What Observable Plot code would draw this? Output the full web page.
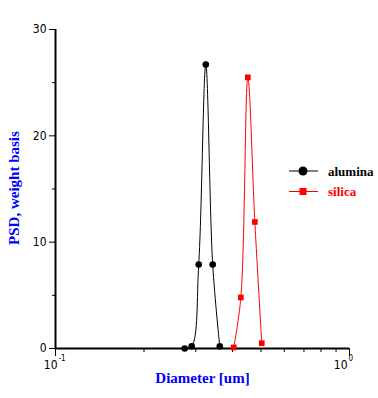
<!DOCTYPE html>
<html>
<head>
<meta charset="utf-8">
<script src="https://cdn.jsdelivr.net/npm/d3@7"></script>
<script src="https://cdn.jsdelivr.net/npm/@observablehq/plot@0.6"></script>
<style>
  html, body { margin: 0; padding: 0; background: white; }
</style>
</head>
<body>
<div id="chart"></div>
<script>
// ---- data ----
const aluminaD   = [0.275, 0.2905, 0.307, 0.3245, 0.3425, 0.362];
const aluminaPSD = [0.0, 0.2, 7.9, 26.7, 7.9, 0.2];
const silicaD    = [0.404, 0.427, 0.451, 0.4765, 0.503];
const silicaPSD  = [0.1, 4.8, 25.5, 11.9, 0.5];

const yMajorTicks = [0, 10, 20, 30];
const yMinorTicks = [5, 15, 25];
const xMajorTicks = [0.1, 1];
const xMinorTicks = [0.2, 0.3, 0.4, 0.5, 0.6, 0.7, 0.8, 0.9];
const xTickBase = ["10", "10"];
const xTickExp  = ["-1", "0"];

const seriesNames = ["alumina", "silica"];
const seriesColors = ["#000000", "#ff0000"];

const alumina = aluminaD.map((d, i) => ({d, v: aluminaPSD[i]}));
const silica  = silicaD.map((d, i) => ({d, v: silicaPSD[i]}));

const numFont = "'Liberation Sans Narrow', 'DejaVu Sans Condensed', 'Liberation Sans', sans-serif";
const serif = "'Liberation Serif', 'DejaVu Serif', serif";

const xt = xMajorTicks.map((t, i) => ({t, base: xTickBase[i], exp: xTickExp[i]}));

const plot = Plot.plot({
  width: 378,
  height: 398,
  marginLeft: 55,
  marginRight: 29,
  marginTop: 29,
  marginBottom: 50,
  style: {background: "white", fontFamily: numFont, fontSize: "12px", color: "black", overflow: "visible"},
  x: {type: "log", domain: [0.1, 1], axis: null},
  y: {domain: [0, 30], axis: null},
  marks: [
    // y axis ticks
    Plot.axisY({ticks: yMajorTicks, tickSize: 6, tickPadding: 3, fontSize: 12, fontFamily: numFont, tickFormat: d => String(d), label: null}),
    Plot.axisY({ticks: yMinorTicks, tickSize: 3, text: null, label: null}),
    // x axis ticks
    Plot.axisX({ticks: xMajorTicks, tickSize: 8, text: null, label: null}),
    Plot.axisX({ticks: xMinorTicks, tickSize: 4, text: null, label: null}),
    // x tick labels 10^n
    Plot.text([xt[0]], {x: "t", text: "base", frameAnchor: "bottom", dy: 20, dx: 2, textAnchor: "end", fontSize: 12, fontFamily: numFont}),
    Plot.text([xt[0]], {x: "t", text: "exp", frameAnchor: "bottom", dy: 12, dx: 3, textAnchor: "start", fontSize: 8, fontFamily: numFont}),
    Plot.text([xt[1]], {x: "t", text: "base", frameAnchor: "bottom", dy: 20, dx: -2, textAnchor: "end", fontSize: 12, fontFamily: numFont}),
    Plot.text([xt[1]], {x: "t", text: "exp", frameAnchor: "bottom", dy: 12, dx: -1, textAnchor: "start", fontSize: 8, fontFamily: numFont}),
    // series
    Plot.line(alumina, {x: "d", y: "v", stroke: seriesColors[0], strokeWidth: 1, curve: "catmull-rom", clip: true}),
    Plot.line(silica,  {x: "d", y: "v", stroke: seriesColors[1], strokeWidth: 1, curve: "catmull-rom", clip: true}),
    // axis lines
    Plot.ruleY([0], {stroke: "black", strokeWidth: 2}),
    Plot.ruleX([0.1], {stroke: "black", strokeWidth: 2}),
    Plot.dot(alumina, {x: "d", y: "v", r: 3.3, fill: seriesColors[0], stroke: "none"}),
    Plot.dot(silica,  {x: "d", y: "v", r: 3.2, symbol: "square", fill: seriesColors[1], stroke: "none"}),
    // axis titles
    Plot.text(["Diameter [um]"], {frameAnchor: "bottom", dy: 34, textAnchor: "middle", fill: "#0000ff", fontWeight: "bold", fontSize: 15, fontFamily: serif}),
    Plot.text(["PSD, weight basis"], {frameAnchor: "left", dx: -41, dy: -1, rotate: -90, textAnchor: "middle", fill: "#0000ff", fontWeight: "bold", fontSize: 15, fontFamily: serif})
  ]
});

// legend
const svg = d3.select(plot);
const lg = svg.append("g").attr("text-anchor", "start");
seriesNames.forEach((name, i) => {
  const y = 171 + i * 20.5;
  lg.append("line").attr("x1", 289).attr("x2", 318).attr("y1", y).attr("y2", y)
    .attr("stroke", seriesColors[i]).attr("stroke-width", 1);
  if (i === 0) {
    lg.append("circle").attr("cx", 303).attr("cy", y).attr("r", 4.5).attr("fill", seriesColors[i]);
  } else {
    lg.append("rect").attr("x", 299.5).attr("y", y - 3.5).attr("width", 7).attr("height", 7).attr("fill", seriesColors[i]);
  }
  lg.append("text").attr("x", 328).attr("y", y).attr("dy", "0.35em").attr("text-anchor", "start")
    .attr("fill", seriesColors[i]).attr("font-family", serif).attr("font-weight", "bold")
    .attr("font-size", 13).text(name);
});

document.getElementById("chart").appendChild(plot);
</script>
</body>
</html>
